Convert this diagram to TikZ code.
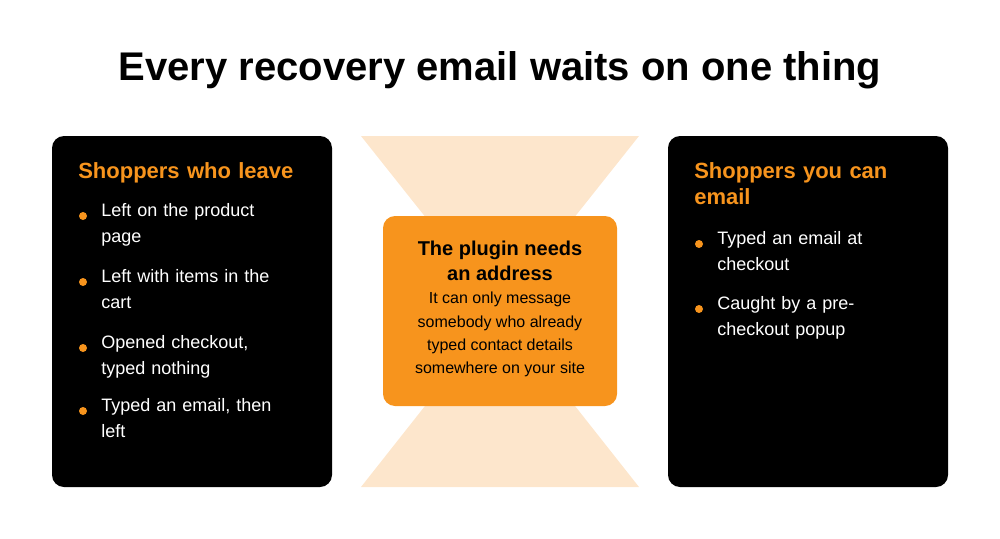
\documentclass[tikz,border=0pt]{standalone}
\usepackage{fontspec}
\setmainfont{Liberation Sans}
\usetikzlibrary{positioning}
\definecolor{accent}{HTML}{F7941D}
\definecolor{peach}{HTML}{FDE6CC}
\tikzset{
  card/.style={fill=black,rounded corners=9pt},
  head/.style={anchor=north west,align=left,text width=165pt,inner sep=0pt,
    text=accent,font=\fontsize{16.5}{20}\selectfont\bfseries},
  item/.style={anchor=north west,align=left,text width=150pt,inner sep=0pt,
    text=white,font=\fontsize{13.5}{19.5}\selectfont},
  dot/.style={circle,fill=accent,inner sep=0pt,minimum size=6pt}
}
\begin{document}
\begin{tikzpicture}[x=0.75pt,y=-0.75pt]
  \useasboundingbox (0,0) rectangle (1000,539);
  % title
  \node (title) at (500,70) {\fontsize{30}{34}\selectfont\bfseries Every recovery email waits on one thing};
  % hourglass
  \fill[peach] (361,136) -- (639,136) -- (500,311) -- cycle;
  \fill[peach] (361,487) -- (639,487) -- (500,311) -- cycle;
  % cards
  \fill[card] (52,136) rectangle (332,487);
  \fill[card] (668,136) rectangle (948,487);
  \fill[accent,rounded corners=9pt] (383,216) rectangle (617,406);
  % left card
  \node[head] (lhead) at (78,162) {Shoppers who leave};
  \foreach \y/\t [count=\i] in {203/{Left on the product\\page},269/{Left with items in the\\cart},335/{Opened checkout,\\typed nothing},398/{Typed an email, then\\left}} {
    \node[dot] (ldot\i) at (83,\y+13) {};
    \node[item] (litem\i) at (101,\y) {\t};
  }
  % right card
  \node[head] (rhead) at (694,162) {Shoppers you can\\email};
  \foreach \y/\t [count=\i] in {231/{Typed an email at\\checkout},296/{Caught by a pre-\\checkout popup}} {
    \node[dot] (rdot\i) at (699,\y+13) {};
    \node[item] (ritem\i) at (717,\y) {\t};
  }
  % middle box
  \node[align=center,inner sep=0pt,font=\fontsize{15}{19}\selectfont\bfseries] (mhead) at (500,261) {The plugin needs\\an address};
  \node[align=center,inner sep=0pt,font=\fontsize{12}{17.5}\selectfont,below=8pt of mhead] (mbody) {It can only message\\somebody who already\\typed contact details\\somewhere on your site};
\end{tikzpicture}
\end{document}
